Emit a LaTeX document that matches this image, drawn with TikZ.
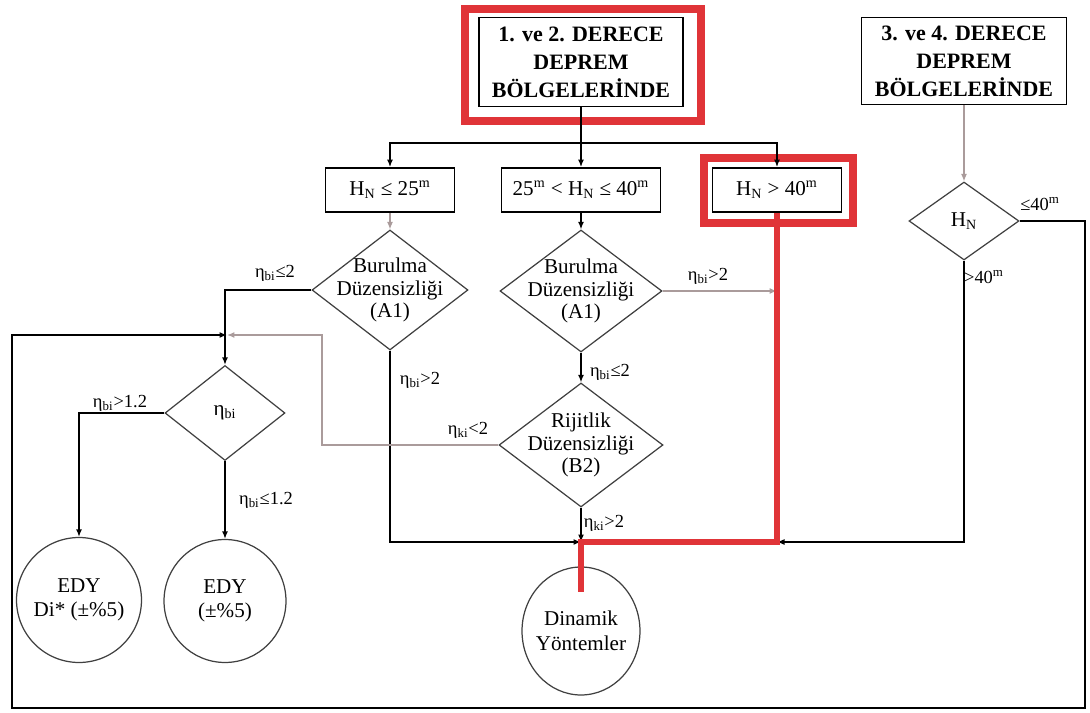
\documentclass[tikz,border=0pt]{standalone}
\usepackage{fontspec}
\setmainfont{Liberation Serif}
\usetikzlibrary{positioning, arrows.meta, shapes.geometric}
\definecolor{hlred}{RGB}{224,52,56}
\definecolor{lgray}{RGB}{170,155,155}

\begin{document}
\begin{tikzpicture}[
  x=0.02cm, y=-0.02cm,
  box/.style={draw, align=center, inner sep=0pt, line width=1pt},
  dia/.style={draw=black!75, diamond, align=center, inner sep=-3mm, line width=0.7pt, font=\fontsize{12}{13}\selectfont},
  circ/.style={draw=black!75, ellipse, align=center, inner sep=-2mm, line width=0.7pt, font=\fontsize{12}{14}\selectfont},
  arr/.style={-{Latex[length=1.5mm, width=1.2mm]}, line width=0.8pt},
  garr/.style={arr, draw=lgray, line width=0.7pt},
  hl/.style={draw=hlred, line width=1.6mm},
  lbl/.style={font=\fontsize{10.5}{12}\selectfont, inner sep=1pt}]
\useasboundingbox (0,0) rectangle (1090,713);
% kutular
\node[box, minimum width=4.08cm, minimum height=1.78cm, font=\bfseries\fontsize{12.5}{16}\selectfont] (top12) at (581,62) {1. ve 2. DERECE\\DEPREM\\BÖLGELERİNDE};
\node[box, minimum width=4.1cm, minimum height=1.74cm, font=\bfseries\fontsize{12.5}{16}\selectfont] (top34) at (964,61) {3. ve 4. DERECE\\DEPREM\\BÖLGELERİNDE};
\node[box, minimum width=2.58cm, minimum height=0.88cm, font=\fontsize{12}{14}\selectfont] (hn25) at (390,190) {H\textsubscript{N} ≤ 25\textsuperscript{m}};
\node[box, minimum width=3.18cm, minimum height=0.88cm, font=\fontsize{12}{14}\selectfont] (hn2540) at (581,190) {25\textsuperscript{m} < H\textsubscript{N} ≤ 40\textsuperscript{m}};
\node[box, minimum width=2.58cm, minimum height=0.88cm, font=\fontsize{12}{14}\selectfont] (hn40) at (777,190) {H\textsubscript{N} > 40\textsuperscript{m}};
% karar
\node[dia, minimum width=3.12cm, minimum height=2.4cm] (a1l) at (390,290) {Burulma\\Düzensizliği\\(A1)};
\node[dia, minimum width=3.24cm, minimum height=2.44cm] (a1m) at (581,291) {Burulma\\Düzensizliği\\(A1)};
\node[dia, minimum width=3.28cm, minimum height=2.48cm] (b2) at (581,445) {Rijitlik\\Düzensizliği\\(B2)};
\node[dia, minimum width=2.4cm, minimum height=1.9cm] (eta) at (225,413) {η\textsubscript{bi}};
\node[dia, minimum width=2.2cm, minimum height=1.56cm] (hn) at (964,221) {H\textsubscript{N}};
% sonuclar
\node[circ, minimum width=2.5cm, minimum height=2.5cm] (edy1) at (79,600) {EDY\\Di* (±\%5)};
\node[circ, minimum width=2.44cm, minimum height=2.46cm] (edy2) at (225,601) {EDY\\(±\%5)};
\node[circ, minimum width=2.36cm, minimum height=2.56cm] (dyn) at (581,631) {Dinamik\\Yöntemler};
% kirmizi cerceveler
\draw[hl] (465,9) rectangle (701,121);
\draw[hl] (704,158) rectangle (853,223);
% baglantilar
\coordinate (br) at (581,143);
\coordinate (jr) at (777,542);
\coordinate (jd) at (581,542);
\coordinate (rend) at (581,592);
\coordinate (kb) at (322,335);
\coordinate (jl) at (227,335);
\coordinate (lpr) at (1085,708);
\coordinate (lpl) at (12,708);
\draw[line width=0.8pt] (top12.south) -- (br);
\foreach \b in {hn25, hn2540, hn40} \draw[arr] (br) -| (\b.north);
\draw[garr] (hn25) -- (a1l);
\draw[arr] (hn2540) -- (a1m);
\draw[arr] (a1l.west) -| (eta.north);
\draw[arr] (a1l.south) |- (jd);
\draw[garr] (a1m.east) -- (a1m.east -| jr);
\draw[arr] (a1m) -- (b2);
\draw[arr] (b2) -- (jd);
\draw[garr] (b2.west) -| (kb) -- (jl);
\draw[garr] (top34) -- (hn);
\draw[arr] (hn.east) -| (lpr) -- (lpl) |- (jl);
\draw[arr] (hn.south) |- (jr);
\draw[arr] (eta.west) -| (edy1.north);
\draw[arr] (eta) -- (edy2);
\draw[arr] (jd) -- (dyn.north);
\draw[hl, line width=1.1mm] (hn40.south) -- (jr) -- (jd) -- (rend);
% etiketler
\node[lbl] (l1) at (275,273) {η\textsubscript{bi}≤2};
\node[lbl] (l2) at (420,380) {η\textsubscript{bi}>2};
\node[lbl] (l3) at (708,276) {η\textsubscript{bi}>2};
\node[lbl] (l4) at (610,372) {η\textsubscript{bi}≤2};
\node[lbl] (l5) at (468,430) {η\textsubscript{ki}<2};
\node[lbl] (l6) at (604,523) {η\textsubscript{ki}>2};
\node[lbl] (l7) at (120,403) {η\textsubscript{bi}>1.2};
\node[lbl] (l8) at (266,500) {η\textsubscript{bi}≤1.2};
\node[lbl] (l9) at (1040,204) {≤40\textsuperscript{m}};
\node[lbl] (l10) at (984,277) {>40\textsuperscript{m}};
\end{tikzpicture}
\end{document}
